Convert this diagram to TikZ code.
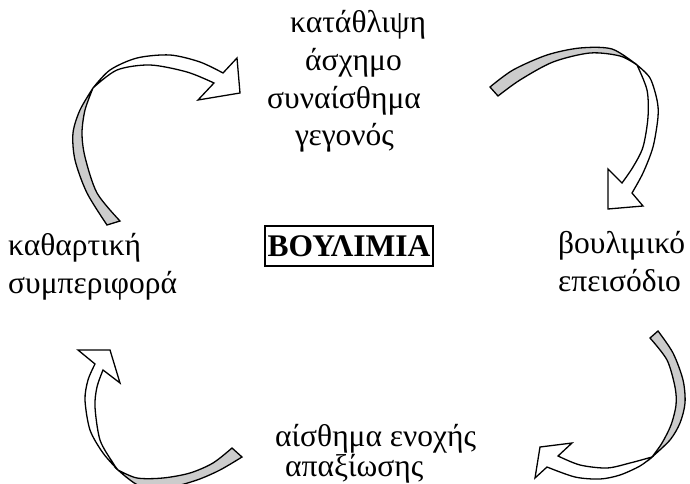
\documentclass[tikz,border=0pt]{standalone}
\usepackage{fontspec}
\setmainfont{Liberation Serif}
\definecolor{bandgray}{RGB}{204,204,204}
\begin{document}
\begin{tikzpicture}[x=1pt,y=-1pt,
  lbl/.style={anchor=base west,inner sep=0pt,font=\fontsize{31.5}{38}\selectfont},
  backband/.style={fill=bandgray,draw=black,line width=1.3pt},
  frontband/.style={fill=white,draw=black,line width=1.3pt}]
\useasboundingbox (0,0) rectangle (690,484);
\clip (0,0) rectangle (690,484);
% texts
\node[lbl] (t1) at (290,33) {κατάθλιψη};
\node[lbl] (t2) at (305,71) {άσχημο};
\node[lbl] (t3) at (267,109) {συναίσθημα};
\node[lbl] (t4) at (295,146) {γεγονός};
\node[lbl] (l1) at (8,255) {καθαρτική};
\node[lbl] (l2) at (8,293) {συμπεριφορά};
\node[lbl] (r1) at (558,253) {βουλιμικό};
\node[lbl] (r2) at (558,291) {επεισόδιο};
\node[lbl] (b1) at (275,446) {αίσθημα ενοχής};
\node[lbl] (b2) at (285,476) {απαξίωσης};
\node[draw,line width=2pt,minimum width=168pt,minimum height=40pt,inner sep=0pt,
  font=\fontsize{31.5}{38}\selectfont\bfseries] (title) at (349,246) {ΒΟΥΛΙΜΙΑ};
% arrow 1 (top-left)
\filldraw[backband] plot[smooth] coordinates {(107,225) (87,193) (75,160) (73,133) (80,110) (93,88)}
  -- plot[smooth] coordinates {(93,88) (85,110) (82,133) (85,157) (97,193) (120,221)} -- cycle;
\filldraw[frontband] plot[smooth] coordinates {(93,88) (110,70) (137,58) (170,55) (200,62) (223,73)}
  -- (237,58) -- (240,93) -- (198,100) -- (214,83)
  -- plot[smooth] coordinates {(214,83) (187,72) (150,65) (117,70) (93,88)} -- cycle;
% arrow 2 (top-right)
\filldraw[backband] plot[smooth] coordinates {(490,87) (513,70) (547,55) (580,48) (612,49) (637,65)}
  -- plot[smooth] coordinates {(637,65) (620,56) (590,53) (553,62) (520,80) (498,96)} -- cycle;
\filldraw[frontband] plot[smooth] coordinates {(637,65) (650,78) (657,100) (658,117) (653,147) (643,173) (632,193)}
  -- (643,206) -- (608,209) -- (608,169) -- (622,183)
  -- plot[smooth] coordinates {(622,183) (633,167) (643,147) (648,117) (647,90) (637,65)} -- cycle;
% arrow 3 (bottom-right)
\filldraw[backband] plot[smooth] coordinates {(658,331) (673,353) (683,380) (685,403) (680,423) (670,440) (652,457)}
  -- plot[smooth] coordinates {(652,457) (662,443) (671,425) (676,405) (675,387) (667,360) (650,338)} -- cycle;
\filldraw[frontband] plot[smooth] coordinates {(652,457) (640,466) (620,475) (600,479) (575,477) (547,467)}
  -- (535,478) -- (540,447) -- (572,443) -- (558,456)
  -- plot[smooth] coordinates {(558,456) (580,465) (607,468) (630,463) (652,457)} -- cycle;
% arrow 4 (bottom-left)
\filldraw[backband] plot[smooth] coordinates {(242,457) (220,470) (197,480) (170,487) (140,486) (118,470)}
  -- plot[smooth] coordinates {(118,470) (137,478) (163,478) (190,473) (213,463) (232,448)} -- cycle;
\filldraw[frontband] plot[smooth] coordinates {(118,470) (103,453) (90,430) (85,400) (88,380) (95,364)}
  -- (78,350) -- (110,350) -- (120,383) -- (103,370)
  -- plot[smooth] coordinates {(103,370) (97,387) (95,407) (100,440) (113,463) (118,470)} -- cycle;
\end{tikzpicture}
\end{document}
